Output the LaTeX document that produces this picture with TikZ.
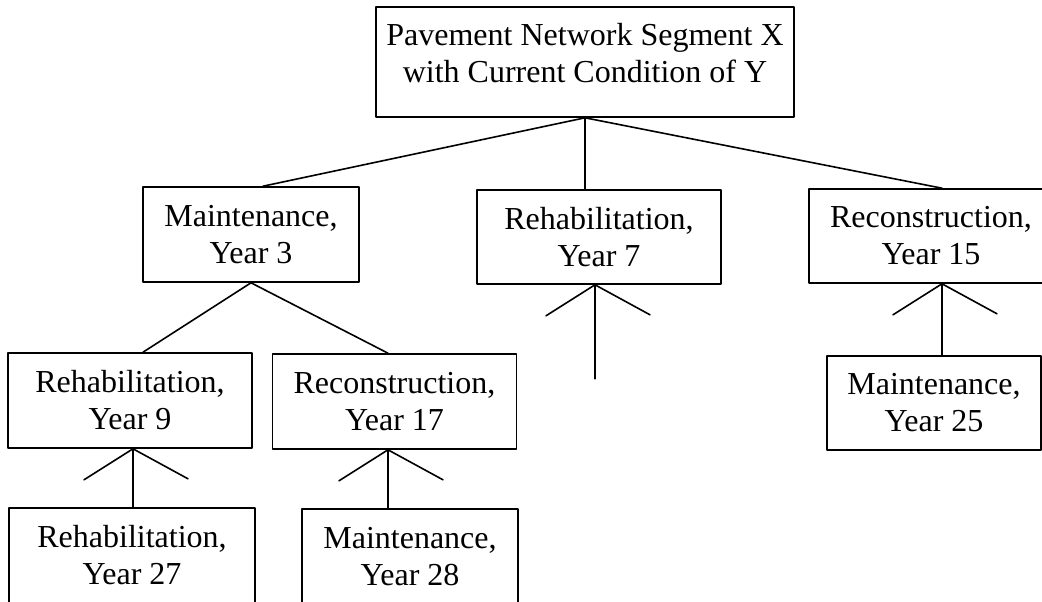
\documentclass[tikz,border=0pt]{standalone}
\usepackage{fontspec}
\setmainfont{Liberation Serif}
\begin{document}
\begin{tikzpicture}[x=1pt,y=-1pt,line width=1.6pt,line join=round,line cap=round,
    font=\fontsize{32}{37}\selectfont,
    box/.style={draw,align=center,inner sep=0pt,minimum width=244pt,minimum height=95pt},
    small/.style={box,minimum width=216pt}]
  \path[use as bounding box,clip] (0,0) rectangle (1042,602);
  % boxes
  \node[box,minimum width=418pt,minimum height=110pt] (seg) at (585,62)
    {\raisebox{5pt}[\height][\depth]{\begin{tabular}{@{}c@{}}Pavement Network Segment X\\with Current Condition of Y\end{tabular}}};
  \node[small] (mnt3) at (251,234.5) {Maintenance,\\Year 3};
  \node[box,minimum height=94pt] (reh7) at (599,237) {Rehabilitation,\\Year 7};
  \node[box,minimum height=94pt] (rec15) at (931,236) {Reconstruction,\\Year 15};
  \node[box] (reh9) at (130,400.5) {Rehabilitation,\\Year 9};
  \node[box] (rec17) at (394.5,401.5) {Reconstruction,\\Year 17};
  \node[small,minimum width=214pt,minimum height=94pt] (mnt25) at (934,403) {Maintenance,\\Year 25};
  \node[box,minimum width=246pt] (reh27) at (132,555.5) {Rehabilitation,\\Year 27};
  \node[small] (mnt28) at (410,556.5) {Maintenance,\\Year 28};
  % junctions
  \coordinate (j7) at ([xshift=-4pt]reh7.south);
  \coordinate (j15) at ([xshift=11pt]rec15.south);
  \coordinate (j9) at ([xshift=3pt]reh9.south);
  \coordinate (j17) at ([xshift=-6.5pt]rec17.south);
  % branches
  \draw (seg.south) -- ([xshift=12pt]mnt3.north);
  \draw (seg.south) -- (seg.south |- reh7.north);
  \draw (seg.south) -- (j15 |- rec15.north);
  \draw (mnt3.south) -- ([xshift=13pt]reh9.north);
  \draw (mnt3.south) -- (j17 |- rec17.north);
  \foreach \j in {j9,j17,j7,j15}\draw (\j) ++(-49,31) -- (\j) -- ++(55,30);
  \draw (j9) -- (j9 |- reh27.north);
  \draw (j17) -- (j17 |- mnt28.north);
  \draw (j15) -- (j15 |- mnt25.north);
  \draw (j7) -- ++(0,94);
\end{tikzpicture}
\end{document}
